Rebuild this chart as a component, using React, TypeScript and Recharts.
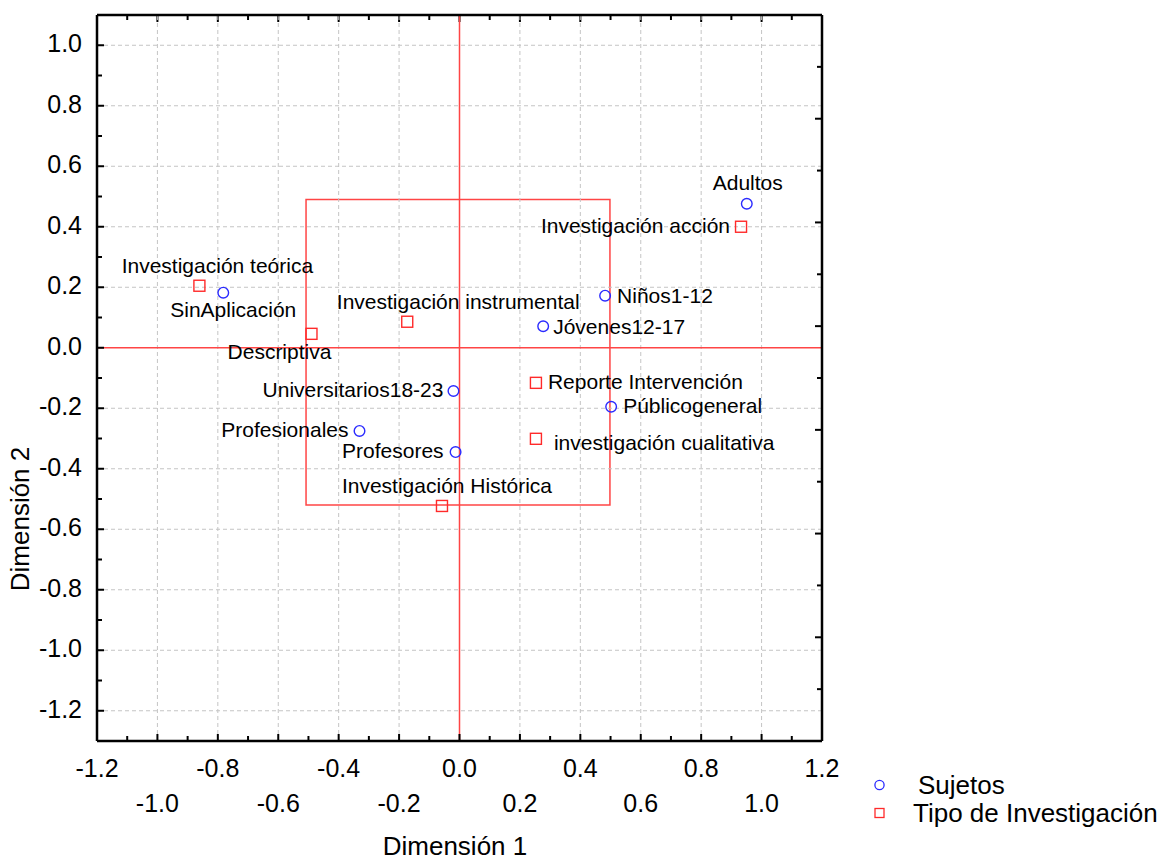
import React from 'react';
import { ScatterChart, Scatter, XAxis, YAxis, ReferenceLine, ReferenceArea, Legend } from 'recharts';

// ---- data ----
const sujetosNames = ['Adultos', 'SinAplicación', 'Niños1-12', 'Jóvenes12-17', 'Universitarios18-23', 'Públicogeneral', 'Profesionales', 'Profesores'];
const sujetosDim1 = [0.951, -0.782, 0.482, 0.277, -0.02, 0.502, -0.331, -0.013];
const sujetosDim2 = [0.476, 0.182, 0.172, 0.071, -0.143, -0.195, -0.275, -0.345];

const tipoNames = ['Investigación acción', 'Investigación teórica', 'Investigación instrumental', 'Descriptiva', 'Reporte Intervención', 'investigación cualitativa', 'Investigación Histórica'];
const tipoDim1 = [0.932, -0.861, -0.173, -0.49, 0.253, 0.253, -0.058];
const tipoDim2 = [0.4, 0.205, 0.086, 0.046, -0.116, -0.301, -0.523];

const xMajorTicks = [-1.2, -1.0, -0.8, -0.6, -0.4, -0.2, 0.0, 0.2, 0.4, 0.6, 0.8, 1.0, 1.2];
const xMinorTicks = [-1.1, -0.9, -0.7, -0.5, -0.3, -0.1, 0.1, 0.3, 0.5, 0.7, 0.9, 1.1];
const yMajorTicks = [1.0, 0.8, 0.6, 0.4, 0.2, 0.0, -0.2, -0.4, -0.6, -0.8, -1.0, -1.2];
const yMinorTicks = [0.9, 0.7, 0.5, 0.3, 0.1, -0.1, -0.3, -0.5, -0.7, -0.9, -1.1];
const rightTicks = [1, 2, 3, 4, 5, 6, 7, 8, 9, 10, 11, 12, 13];

const gridX = [-1.0, -0.8, -0.6, -0.4, -0.2, 0.2, 0.4, 0.6, 0.8, 1.0];
const gridY = [1.0, 0.8, 0.6, 0.4, 0.2, -0.2, -0.4, -0.6, -0.8, -1.0, -1.2];

const boxBounds = { x1: -0.508, x2: 0.498, y1: -0.52, y2: 0.49 };
const xDomain = [-1.2, 1.2];
const yDomain = [-1.3, 1.1];
const rightDomain = [0, 14];

const sujetosData = sujetosNames.map((name, i) => ({ name, x: sujetosDim1[i], y: sujetosDim2[i] }));
const tipoData = tipoNames.map((name, i) => ({ name, x: tipoDim1[i], y: tipoDim2[i] }));

const xTicksAll = [...xMajorTicks, ...xMinorTicks].sort((a, b) => a - b);
const yTicksAll = [...yMajorTicks, ...yMinorTicks].sort((a, b) => a - b);

// ---- layout / styles ----
const CHART_W = 1164;
const CHART_H = 863;
const MARGIN = { top: 15, right: 342, bottom: 0, left: 0 };
const Y_AXIS_W = 97;
const X_AXIS_H = 122;
const PLOT_LEFT = MARGIN.left + Y_AXIS_W;
const PLOT_TOP = MARGIN.top;
const PLOT_W = CHART_W - MARGIN.left - MARGIN.right - Y_AXIS_W;
const PLOT_H = CHART_H - MARGIN.top - MARGIN.bottom - X_AXIS_H;

const FONT = "'Liberation Sans', Arial, Helvetica, sans-serif";
const BLUE = '#2a2aff';
const RED = '#ff2a2a';
const REDLINE = '#ff4545';

const labelPlacement: Record<string, { anchor: 'start' | 'middle' | 'end'; dx: number; dy: number }> = {
  'Adultos': { anchor: 'middle', dx: 1, dy: -14 },
  'SinAplicación': { anchor: 'middle', dx: 10, dy: 24 },
  'Niños1-12': { anchor: 'start', dx: 12, dy: 7 },
  'Jóvenes12-17': { anchor: 'start', dx: 10, dy: 8 },
  'Universitarios18-23': { anchor: 'end', dx: -10, dy: 6 },
  'Públicogeneral': { anchor: 'start', dx: 12, dy: 6 },
  'Profesionales': { anchor: 'end', dx: -11, dy: 6 },
  'Profesores': { anchor: 'end', dx: -12, dy: 6 },
  'Investigación acción': { anchor: 'end', dx: -11, dy: 6 },
  'Investigación teórica': { anchor: 'middle', dx: 18, dy: -13 },
  'Investigación instrumental': { anchor: 'middle', dx: 51, dy: -13 },
  'Descriptiva': { anchor: 'middle', dx: -32, dy: 25 },
  'Reporte Intervención': { anchor: 'start', dx: 12, dy: 6 },
  'investigación cualitativa': { anchor: 'start', dx: 18, dy: 11 },
  'Investigación Histórica': { anchor: 'middle', dx: 5, dy: -13 },
};

const PointLabel = ({ cx, cy, name }: { cx: number; cy: number; name: string }) => {
  const p = labelPlacement[name] || { anchor: 'start', dx: 10, dy: 6 };
  return (
    <text x={cx + p.dx} y={cy + p.dy} textAnchor={p.anchor} fontFamily={FONT} fontSize={21} fill="#000">
      {name}
    </text>
  );
};

const CircleShape = (props: any) => {
  const { cx, cy, payload } = props;
  return (
    <g>
      <circle cx={cx} cy={cy} r={5.3} fill="none" stroke={BLUE} strokeWidth={1.4} />
      <PointLabel cx={cx} cy={cy} name={payload.name} />
    </g>
  );
};

const SquareShape = (props: any) => {
  const { cx, cy, payload } = props;
  return (
    <g>
      <rect x={cx - 5.5} y={cy - 5.5} width={11} height={11} fill="none" stroke={RED} strokeWidth={1.4} />
      <PointLabel cx={cx} cy={cy} name={payload.name} />
    </g>
  );
};

const isMajor = (v: number) => Math.abs(Math.round(v * 10)) % 2 === 0;

const BottomTick = (props: any) => {
  const { x, y, payload } = props;
  const v = payload.value;
  const major = isMajor(v);
  const len = major ? 7 : 5;
  const n = Math.abs(Math.round(v * 10)) / 2;
  const row = n % 2 === 0 ? 0 : 1;
  return (
    <g>
      <line x1={x} x2={x} y1={y} y2={y - len} stroke="#000" strokeWidth={2} />
      {major && (
        <text x={x} y={y + (row === 0 ? 36 : 71)} textAnchor="middle" fontFamily={FONT} fontSize={25} fill="#000">
          {v.toFixed(1)}
        </text>
      )}
    </g>
  );
};

const LeftTick = (props: any) => {
  const { x, y, payload } = props;
  const v = payload.value;
  const major = isMajor(v);
  return (
    <g>
      <line x1={x} x2={x + (major ? 7 : 5)} y1={y} y2={y} stroke="#000" strokeWidth={2} />
      {major && (
        <text x={x - 15} y={y + 7} textAnchor="end" fontFamily={FONT} fontSize={25} fill="#000">
          {v.toFixed(1)}
        </text>
      )}
    </g>
  );
};

// top and right sides of the frame with their inward ticks
const FrameTicks = () => {
  const right = PLOT_LEFT + PLOT_W;
  return (
    <g className="frame-ticks">
      {xTicksAll.map((v) => {
        const tx = PLOT_LEFT + (PLOT_W * (v - xDomain[0])) / (xDomain[1] - xDomain[0]);
        return <line key={'t' + v} x1={tx} x2={tx} y1={PLOT_TOP} y2={PLOT_TOP + (isMajor(v) ? 7 : 5)} stroke="#000" strokeWidth={2} />;
      })}
      {rightTicks.map((k) => {
        const ty = PLOT_TOP + PLOT_H * (1 - (k - rightDomain[0]) / (rightDomain[1] - rightDomain[0]));
        return <line key={'r' + k} x1={right} x2={right - (k % 2 === 0 ? 7 : 5)} y1={ty} y2={ty} stroke="#000" strokeWidth={2} />;
      })}
    </g>
  );
};

const LegendContent = (props: any) => {
  const items = (props.payload || []).filter((it: any) => it.type !== 'none');
  return (
    <svg width={300} height={80} style={{ display: 'block' }}>
      {items.map((item: any, i: number) => {
        const cy = i === 0 ? 20 : 48;
        const isCircle = item.type === 'circle';
        return (
          <g key={i}>
            {isCircle ? (
              <circle cx={19.5} cy={cy} r={4.6} fill="none" stroke={BLUE} strokeWidth={1.3} />
            ) : (
              <rect x={15} y={cy - 4.5} width={9} height={9} fill="none" stroke={RED} strokeWidth={1.3} />
            )}
            <text x={isCircle ? 58 : 53} y={cy + 9} fontFamily={FONT} fontSize={26} fill="#000">
              {item.value}
            </text>
          </g>
        );
      })}
    </svg>
  );
};

export default function App() {
  return (
    <div style={{ position: 'absolute', left: 0, top: 0, width: CHART_W, height: CHART_H, background: '#fff' }}>
      <ScatterChart width={CHART_W} height={CHART_H} margin={MARGIN}>
        <XAxis
          type="number"
          dataKey="x"
          domain={xDomain}
          ticks={xTicksAll}
          interval={0}
          tickSize={0}
          tickMargin={0}
          tickLine={false}
          tick={<BottomTick />}
          axisLine={{ stroke: '#000', strokeWidth: 2.5 }}
          height={X_AXIS_H}
          allowDataOverflow
          label={() => (
            <text x={455} y={855} textAnchor="middle" fontFamily={FONT} fontSize={26} fill="#000">
              Dimensión 1
            </text>
          )}
        />
        <YAxis
          type="number"
          dataKey="y"
          domain={yDomain}
          ticks={yTicksAll}
          interval={0}
          tickSize={0}
          tickMargin={0}
          tickLine={false}
          tick={<LeftTick />}
          axisLine={{ stroke: '#000', strokeWidth: 2.5 }}
          width={Y_AXIS_W}
          allowDataOverflow
          label={() => (
            <text x={29} y={519} transform="rotate(-90 29 519)" textAnchor="middle" fontFamily={FONT} fontSize={26} fill="#000">
              Dimensión 2
            </text>
          )}
        />
        {gridX.map((v) => (
          <ReferenceLine key={'gx' + v} x={v} stroke="#c4c4c4" strokeWidth={1} strokeDasharray="4 3" />
        ))}
        {gridY.map((v) => (
          <ReferenceLine key={'gy' + v} y={v} stroke="#c4c4c4" strokeWidth={1} strokeDasharray="4 3" />
        ))}
        <ReferenceLine x={0} stroke={REDLINE} strokeWidth={1.5} />
        <ReferenceLine y={0} stroke={REDLINE} strokeWidth={1.5} />
        <ReferenceLine y={yDomain[1]} stroke="#000" strokeWidth={2.5} ifOverflow="visible" />
        <ReferenceLine x={xDomain[1]} stroke="#000" strokeWidth={2.5} ifOverflow="visible" />
        <ReferenceArea
          x1={boxBounds.x1}
          x2={boxBounds.x2}
          y1={boxBounds.y1}
          y2={boxBounds.y2}
          fill="none"
          fillOpacity={0}
          stroke={REDLINE}
          strokeWidth={1.5}
        />
        <Legend
          layout="horizontal"
          verticalAlign="middle"
          align="center"
          content={<LegendContent />}
          wrapperStyle={{ left: 860, top: 765, width: 300, height: 80 }}
        />
        <Scatter
          name=" Sujetos"
          data={sujetosData}
          legendType="circle"
          fill={BLUE}
          shape={<CircleShape />}
          isAnimationActive={false}
        />
        <Scatter
          name="Tipo de Investigación"
          data={tipoData}
          legendType="square"
          fill={RED}
          shape={<SquareShape />}
          isAnimationActive={false}
        />
        <FrameTicks />
      </ScatterChart>
    </div>
  );
}
